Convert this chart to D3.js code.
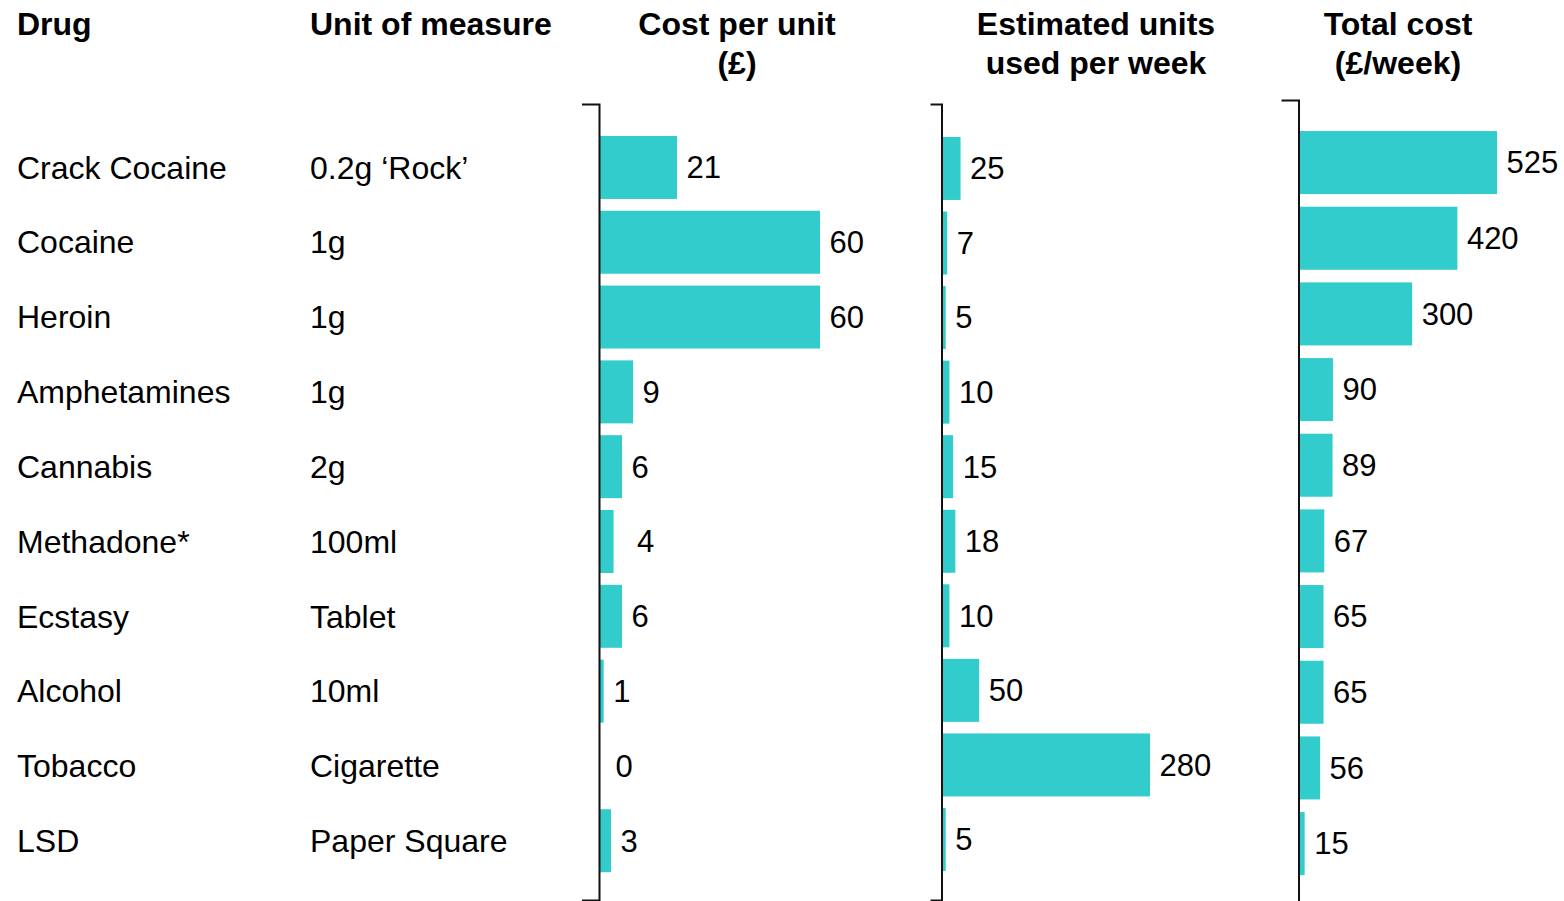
<!DOCTYPE html>
<html>
<head>
<meta charset="utf-8">
<script src="https://cdn.jsdelivr.net/npm/d3@7"></script>
<style>
  html, body { margin: 0; padding: 0; background: #fff; }
  svg { display: block; }
  text { font-family: "Liberation Sans", Arial, sans-serif; fill: #000; }
</style>
</head>
<body>
<svg id="chart" width="1564" height="901"></svg>
<script>
// ---- data ----
const drugs = ["Crack Cocaine", "Cocaine", "Heroin", "Amphetamines", "Cannabis",
               "Methadone*", "Ecstasy", "Alcohol", "Tobacco", "LSD"];
const units = ["0.2g \u2018Rock\u2019", "1g", "1g", "1g", "2g", "100ml", "Tablet", "10ml", "Cigarette", "Paper Square"];
const costPerUnit = [21, 60, 60, 9, 6, 3.7, 6, 1, 0, 3];
const unitsPerWeek = [25, 7, 5, 10, 15, 18, 10, 50, 280, 5];
const totalCost = [525, 420, 300, 90, 89, 67, 65, 65, 56, 15];
const headers = [
  ["Drug"], ["Unit of measure"], ["Cost per unit", "(\u00a3)"],
  ["Estimated units", "used per week"], ["Total cost", "(\u00a3/week)"]
];
// small per-label horizontal nudges seen in the original
const labelNudge = { cost: { "Methadone*": 14, "Tobacco": 6 } };

// ---- layout ----
const svg = d3.select("#chart");
const color = "#33CCCC";
const fmt = d3.format(".0f");

// headers
const headerPos = [
  { x: 17, anchor: "start" }, { x: 310, anchor: "start" },
  { x: 737, anchor: "middle" }, { x: 1096, anchor: "middle" }, { x: 1398, anchor: "middle" }
];
headers.forEach((lines, i) => {
  const t = svg.append("text")
    .attr("x", headerPos[i].x).attr("y", 35)
    .attr("text-anchor", headerPos[i].anchor)
    .style("font-size", "32px").style("font-weight", "bold");
  lines.forEach((l, j) => {
    t.append("tspan").attr("x", headerPos[i].x).attr("dy", j === 0 ? 0 : 39).text(l);
  });
});

// panels
const panels = [
  { key: "cost", values: costPerUnit, x0: 600, x1: 820, max: 60,
    yr: [104, 900], pad: 0.158, po: 0.399, align: 0.535, tick: 17, axisX: 599 },
  { key: "units", values: unitsPerWeek, x0: 942, x1: 1150, max: 280,
    yr: [104, 900], pad: 0.155, po: 0.4155, align: 0.532, tick: 11, axisX: 941.5 },
  { key: "total", values: totalCost, x0: 1299, x1: 1497, max: 525,
    yr: [100, 904], pad: 0.167, po: 0.396, align: 0.518, tick: 17, axisX: 1298.5 }
];

let firstY = null;
panels.forEach(p => {
  const y = d3.scaleBand().domain(drugs).range(p.yr)
    .paddingInner(p.pad).paddingOuter(p.po).align(p.align);
  const x = d3.scaleLinear().domain([0, p.max]).range([p.x0, p.x1]);
  if (!firstY) firstY = y;

  const g = svg.append("g");
  g.selectAll("rect").data(drugs).join("rect")
    .attr("x", x(0))
    .attr("y", d => y(d))
    .attr("width", (d, i) => x(p.values[i]) - x(0))
    .attr("height", y.bandwidth())
    .attr("fill", color);

  g.selectAll("text.val").data(drugs).join("text")
    .attr("class", "val")
    .attr("x", (d, i) => x(p.values[i]) + 9.5 + ((labelNudge[p.key] || {})[d] || 0))
    .attr("y", d => y(d) + y.bandwidth() / 2)
    .attr("dy", "0.35em")
    .style("font-size", "31px")
    .text((d, i) => fmt(p.values[i]));

  const axis = d3.axisLeft(y).tickValues([]).tickSizeOuter(p.tick);
  const ag = svg.append("g").attr("transform", `translate(${p.axisX},0)`).call(axis);
  ag.select(".domain").attr("stroke", "#111").attr("stroke-width", 2);
});

// row labels
svg.append("g").selectAll("text").data(drugs).join("text")
  .attr("x", 17).attr("y", d => firstY(d) + firstY.bandwidth() / 2)
  .attr("dy", "0.35em").style("font-size", "32px").text(d => d);
svg.append("g").selectAll("text").data(units).join("text")
  .attr("x", 310).attr("y", (d, i) => firstY(drugs[i]) + firstY.bandwidth() / 2)
  .attr("dy", "0.35em").style("font-size", "32px").text(d => d);
</script>
</body>
</html>
